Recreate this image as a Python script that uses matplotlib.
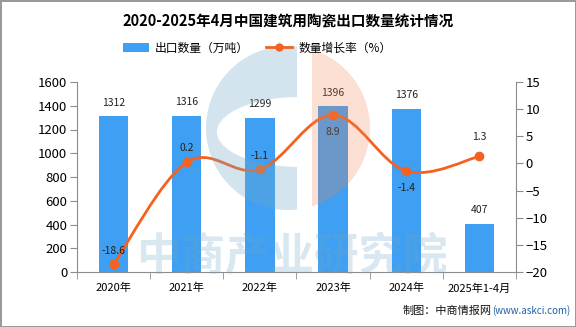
import numpy as np
import matplotlib
matplotlib.use("Agg")
import matplotlib.pyplot as plt
from matplotlib.path import Path
from matplotlib.patches import PathPatch, Patch, Polygon
from matplotlib.lines import Line2D

plt.rcParams['font.family'] = ['Noto Sans CJK SC', 'DejaVu Sans']
plt.rcParams['axes.unicode_minus'] = True

# 数据
years = ['2020年', '2021年', '2022年', '2023年', '2024年', '2025年1-4月']
export_qty = [1312, 1316, 1299, 1396, 1376, 407]
growth = [-18.6, 0.2, -1.1, 8.9, -1.4, 1.3]
# 增长率标签偏移（点）
label_dy = [10, 10, 10, -12, -12, 14]

bar_color = '#3f9ff2'
line_color = '#f5621f'
axis_color = '#8c8c8c'

W, H = 576, 327
fig = plt.figure(figsize=(W / 100, H / 100), dpi=100)
fig.patch.set_edgecolor('#9a9a9a')
fig.patch.set_linewidth(2)

ax = fig.add_axes([77 / W, 1 - 272 / H, (516 - 77) / W, (272 - 82) / H])
ax.patch.set_visible(False)
x = np.arange(len(years))

bars = ax.bar(x, export_qty, width=0.4, color=bar_color, zorder=2)
for xi, v in zip(x, export_qty):
    ax.annotate(str(v), (xi, v), xytext=(0, 6), textcoords='offset points',
                ha='center', va='bottom', fontsize=7.5, color='#222')

ax.set_xlim(-0.5, len(years) - 0.5)
ax.set_ylim(0, 1600)
ax.set_yticks(np.arange(0, 1601, 200))
ax.set_xticks(x)
ax.set_xticklabels(years, fontsize=8)
ax.set_xticks(np.arange(-0.5, len(years)), minor=True)
ax.tick_params(axis='x', which='major', length=0, pad=8)
ax.tick_params(axis='x', which='minor', length=5, color=axis_color)
ax.tick_params(axis='y', length=5, color=axis_color, labelsize=9.5, pad=2)
for s in ['top', 'right']:
    ax.spines[s].set_visible(False)
for s in ['left', 'bottom']:
    ax.spines[s].set_color(axis_color)

ax2 = ax.twinx()
ax2.set_ylim(-20, 15)
ax2.set_yticks(np.arange(-20, 16, 5))
ax2.tick_params(axis='y', length=5, color=axis_color, labelsize=9.5, pad=2)
for s in ['top', 'left', 'bottom']:
    ax2.spines[s].set_visible(False)
ax2.spines['right'].set_color(axis_color)

# 平滑曲线（Catmull-Rom 转贝塞尔）
pts = np.column_stack([x, growth]).astype(float)
n = len(pts)
verts = [pts[0]]
codes = [Path.MOVETO]
k = 0.35
for i in range(n - 1):
    p0 = pts[max(i - 1, 0)]
    p1 = pts[i]
    p2 = pts[i + 1]
    p3 = pts[min(i + 2, n - 1)]
    c1 = p1 + (p2 - p0) * k / 2
    c2 = p2 - (p3 - p1) * k / 2
    verts += [c1, c2, p2]
    codes += [Path.CURVE4] * 3
ax2.add_patch(PathPatch(Path(verts, codes), fill=False, edgecolor=line_color,
                        lw=2, zorder=3))
ax2.plot(x, growth, 'o', color=line_color, ms=6, zorder=4)
for xi, v, dy in zip(x, growth, label_dy):
    ax2.annotate(f'{v}', (xi, v), xytext=(0, dy), textcoords='offset points',
                 ha='center', va='center', fontsize=7.5, color='#222')

# 标题与图例
fig.text(0.5, 1 - 22 / H, '2020-2025年4月中国建筑用陶瓷出口数量统计情况',
         ha='center', va='center', fontsize=10.5, fontweight='bold')
handles = [Patch(facecolor=bar_color, edgecolor='none'),
           Line2D([], [], color=line_color, lw=2, marker='o', ms=5)]
fig.legend(handles, ['出口数量（万吨）', '数量增长率（%）'], loc='center',
           bbox_to_anchor=(257 / W, 1 - 48 / H), ncol=2, frameon=False,
           fontsize=8.5, handlelength=2.2, handleheight=0.8,
           columnspacing=1.5, handletextpad=0.5)

# 水印（像素坐标）
wm = fig.add_axes([0, 0, 1, 1], zorder=5)
wm.set_xlim(0, W)
wm.set_ylim(H, 0)
wm.axis('off')
cx, cy, r = 288, 128, 82
a0 = np.arccos((297 - cx) / r)
t = np.linspace(a0, 2 * np.pi - a0, 80)
outer = np.column_stack([cx + r * np.cos(t), cy - r * np.sin(t)])
b0 = np.arccos((297 - 300) / 83)
u = np.linspace(2 * np.pi - b0, b0, 80)
inner = np.column_stack([300 + 83 * np.cos(u), 132 - 35 * np.sin(u)])
wm.add_patch(Polygon(np.vstack([outer, inner]), closed=True,
                     facecolor='#6fa8c8', edgecolor='none', alpha=0.3))
c0 = np.arccos((312 - cx) / r)
t2 = np.linspace(-c0, c0, 60)
half = np.column_stack([cx + r * np.cos(t2), cy - r * np.sin(t2)])
wm.add_patch(Polygon(half, closed=True, facecolor='#f08050',
                     edgecolor='none', alpha=0.25))
wm.text(292, 256, '中商产业研究院', ha='center', va='center', fontsize=32,
        fontweight='bold', color='#6fa8c8', alpha=0.27)

# 来源
url = fig.text(1 - 6 / W, 1 - 311 / H, '(www.askci.com)', ha='right',
               va='center', fontsize=7, color='#1f5fa8')
ax.annotate('制图：中商情报网', xy=(0, 0.5), xycoords=url, ha='right',
            va='center', fontsize=8, color='#111', annotation_clip=False)

fig.savefig('out.png', dpi=100, edgecolor=fig.get_edgecolor())
